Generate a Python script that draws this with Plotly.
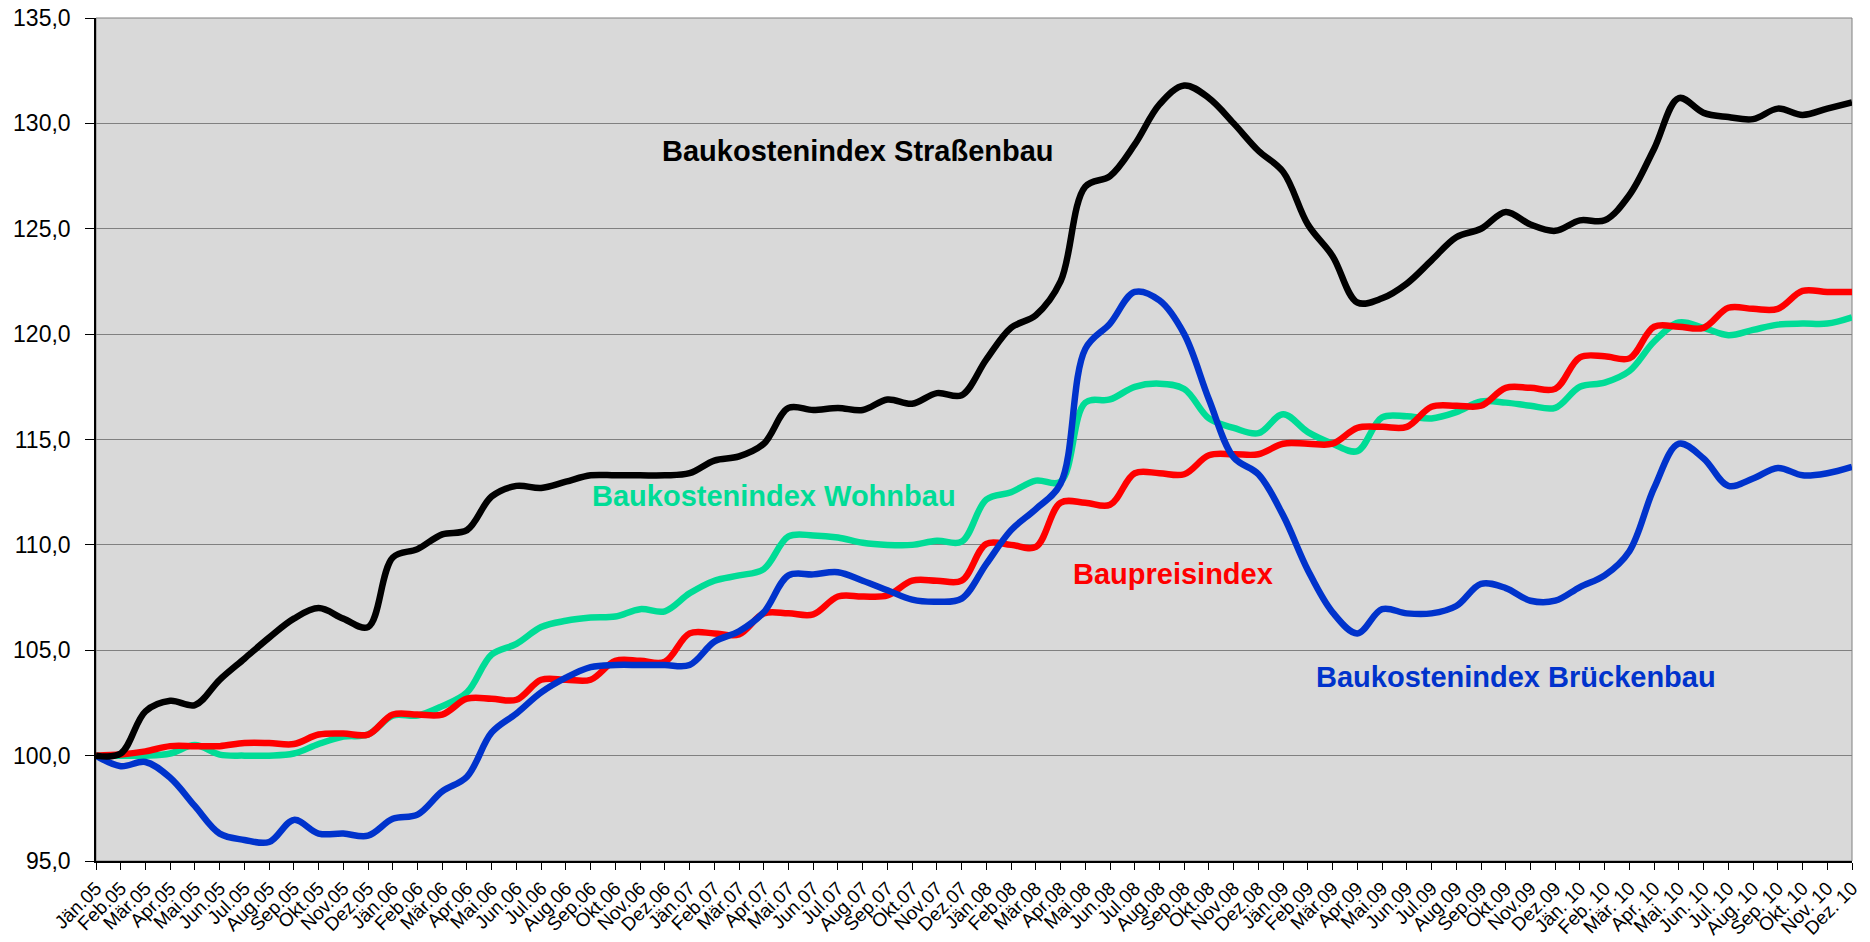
import plotly.graph_objects as go

months = ["Jän.05","Feb.05","Mär.05","Apr.05","Mai.05","Jun.05","Jul.05","Aug.05","Sep.05","Okt.05","Nov.05","Dez.05",
          "Jän.06","Feb.06","Mär.06","Apr.06","Mai.06","Jun.06","Jul.06","Aug.06","Sep.06","Okt.06","Nov.06","Dez.06",
          "Jän.07","Feb.07","Mär.07","Apr.07","Mai.07","Jun.07","Jul.07","Aug.07","Sep.07","Okt.07","Nov.07","Dez.07",
          "Jän.08","Feb.08","Mär.08","Apr.08","Mai.08","Jun.08","Jul.08","Aug.08","Sep.08","Okt.08","Nov.08","Dez.08",
          "Jän.09","Feb.09","Mär.09","Apr.09","Mai.09","Jun.09","Jul.09","Aug.09","Sep.09","Okt.09","Nov.09","Dez.09",
          "Jän. 10","Feb. 10","Mär. 10","Apr. 10","Mai. 10","Jun. 10","Jul. 10","Aug. 10","Sep. 10","Okt. 10","Nov. 10","Dez. 10"]

strassenbau = [100.0, 100.1, 102.1, 102.6, 102.4, 103.6, 104.6, 105.6, 106.5, 107.0, 106.5, 106.1,
               109.4, 109.8, 110.5, 110.7, 112.3, 112.8, 112.7, 113.0, 113.3, 113.3, 113.3, 113.3,
               113.4, 114.0, 114.2, 114.8, 116.5, 116.4, 116.5, 116.4, 116.9, 116.7, 117.2, 117.1,
               118.8, 120.3, 120.9, 122.5, 127.0, 127.5, 129.0, 130.9, 131.8, 131.2, 130.0, 128.7,
               127.7, 125.2, 123.7, 121.5, 121.7, 122.4, 123.5, 124.6, 125.0, 125.8, 125.2, 124.9,
               125.4, 125.4, 126.6, 128.8, 131.2, 130.5, 130.3, 130.2, 130.7, 130.4, 130.7, 131.0]

baupreis = [100.0, 100.05, 100.2, 100.45, 100.45, 100.45, 100.6, 100.6, 100.55, 101.0, 101.05, 101.0,
            101.95, 101.95, 101.95, 102.7, 102.7, 102.65, 103.6, 103.6, 103.6, 104.5, 104.5, 104.45,
            105.8, 105.8, 105.75, 106.75, 106.75, 106.7, 107.55, 107.55, 107.6, 108.3, 108.3, 108.3,
            110.05, 110.0, 109.9, 112.0, 112.0, 111.9, 113.4, 113.4, 113.35, 114.25, 114.3, 114.3,
            114.8, 114.8, 114.8, 115.55, 115.6, 115.6, 116.55, 116.6, 116.6, 117.45, 117.45, 117.4,
            118.9, 118.95, 118.85, 120.35, 120.35, 120.3, 121.25, 121.2, 121.2, 122.05, 122.0, 122.0]

wohnbau = [100.0, 100.0, 100.0, 100.1, 100.5, 100.05, 100.0, 100.0, 100.1, 100.55, 100.9, 101.0,
           101.9, 101.9, 102.35, 103.0, 104.8, 105.3, 106.1, 106.4, 106.55, 106.6, 106.95, 106.85,
           107.7, 108.3, 108.55, 108.85, 110.4, 110.45, 110.35, 110.1, 110.0, 110.0, 110.2, 110.15,
           112.15, 112.5, 113.05, 113.0, 116.75, 116.9, 117.5, 117.65, 117.4, 116.0, 115.55, 115.3,
           116.2, 115.35, 114.8, 114.45, 116.05, 116.1, 116.0, 116.3, 116.8, 116.75, 116.6, 116.5,
           117.5, 117.7, 118.25, 119.65, 120.55, 120.3, 119.95, 120.2, 120.45, 120.5, 120.5, 120.8]

brueckenbau = [100.0, 99.5, 99.7, 98.95, 97.6, 96.3, 96.0, 95.9, 96.95, 96.3, 96.3, 96.2,
               97.0, 97.2, 98.3, 99.0, 101.1, 102.0, 103.0, 103.7, 104.2, 104.3, 104.3, 104.3,
               104.3, 105.4, 105.9, 106.8, 108.55, 108.6, 108.7, 108.3, 107.85, 107.4, 107.3, 107.45,
               109.1, 110.7, 111.7, 112.9, 119.3, 120.5, 122.0, 121.6, 120.0, 116.9, 114.15, 113.35,
               111.4, 108.8, 106.8, 105.8, 106.95, 106.75, 106.75, 107.1, 108.15, 107.95, 107.35, 107.35,
               108.0, 108.55, 109.7, 112.7, 114.8, 114.1, 112.8, 113.15, 113.65, 113.3, 113.4, 113.7]

series_names = ["Baukostenindex Wohnbau", "Baupreisindex", "Baukostenindex Brückenbau", "Baukostenindex Straßenbau"]
series_values = [wohnbau, baupreis, brueckenbau, strassenbau]
series_colors = ["#00DC96", "#FF0000", "#0033CC", "#000000"]
series_widths = [6.5, 6.5, 6.5, 6.5]

FONT = "Liberation Sans, Arial, sans-serif"

fig = go.Figure()
for name, vals, col, w in zip(series_names, series_values, series_colors, series_widths):
    fig.add_trace(go.Scatter(x=months, y=vals, mode="lines", name=name,
                             line=dict(color=col, width=w, shape="spline", smoothing=1.0)))

labels = [
    ("Baukostenindex Straßenbau", 30.8, 128.7, "#000000"),
    ("Baukostenindex Wohnbau", 27.4, 112.3, "#00DC96"),
    ("Baupreisindex", 43.55, 108.6, "#FF0000"),
    ("Baukostenindex Brückenbau", 57.4, 103.75, "#0033CC"),
]
for txt, lx, ly, col in labels:
    fig.add_annotation(x=lx, y=ly, xref="x", yref="y", text="<b>" + txt + "</b>",
                       showarrow=False, font=dict(family=FONT, size=29, color=col))

fig.add_shape(type="rect", xref="paper", yref="paper", x0=0, x1=1, y0=0, y1=1,
              line=dict(color="#808080", width=1), layer="below", fillcolor="rgba(0,0,0,0)")

fig.update_layout(
    width=1870, height=942,
    margin=dict(l=96, r=18, t=18, b=81),
    paper_bgcolor="white", plot_bgcolor="#D9D9D9",
    showlegend=False,
    separators=",.",
    font=dict(family=FONT, color="black"),
)
fig.update_xaxes(
    type="category", range=[0, len(months) - 1], automargin=False,
    tickmode="array", tickvals=months, ticktext=months,
    tickangle=-45, tickfont=dict(family=FONT, size=19, color="black"),
    ticks="outside", ticklen=7, tickcolor="black",
    showline=True, linecolor="black", linewidth=1.5,
    showgrid=False, zeroline=False,
)
fig.update_yaxes(
    range=[95, 135], dtick=5, tick0=95, tickformat=".1f", automargin=False,
    tickfont=dict(family=FONT, size=23, color="black"),
    ticks="outside", ticklen=9, tickcolor="black", ticklabelstandoff=10,
    showline=True, linecolor="black", linewidth=1.5,
    showgrid=True, gridcolor="#808080", gridwidth=1, zeroline=False,
)

fig.write_html("out.html", config={"displayModeBar": False},
               post_script="document.body.style.margin='0';document.body.style.overflow='hidden';")
